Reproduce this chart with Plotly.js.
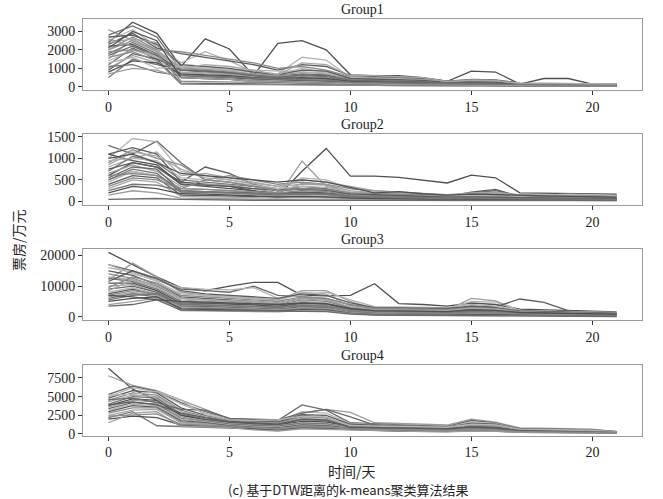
<!DOCTYPE html>
<html>
<head>
<meta charset="utf-8">
<script src="https://cdn.plot.ly/plotly-3.0.1.min.js"></script>
<style>
  body { margin: 0; background: #fff; }
  #plot { width: 663px; height: 499px; }
</style>
</head>
<body>
<div id="plot"></div>
<script>
// 天数 0..21
const days = [0,1,2,3,4,5,6,7,8,9,10,11,12,13,14,15,16,17,18,19,20,21];

const groupNames = ['Group1', 'Group2', 'Group3', 'Group4'];

// 各组票房曲线（万元）
const group1 = [
  [2400,3500,2900,1100,2600,2050,600,2350,2500,2000,650,600,600,500,300,850,800,150,450,450,150,150],
  [3100,2500,2000,1000,900,800,500,400,350,300,250,200,180,150,120,100,90,80,70,60,60,50],
  [2800,3300,2700,900,800,700,600,500,450,400,300,250,230,200,150,120,100,90,80,70,60,60],
  [2500,3100,2200,1300,1900,1400,800,700,1600,1450,500,450,400,350,250,350,300,120,100,100,90,80],
  [2300,2900,2100,1800,1600,1400,1200,900,1200,1100,600,550,500,450,300,400,380,200,180,170,160,150],
  [2000,2700,2000,1900,1700,1500,1300,1000,1100,900,550,500,480,400,300,350,330,180,170,160,150,140],
  [1500,2600,1900,800,700,650,500,450,400,350,300,280,250,200,150,150,120,100,90,80,70,60],
  [1800,2400,1800,700,600,550,450,400,380,350,250,230,200,180,140,130,110,90,80,70,60,50],
  [2200,2300,1700,600,550,500,400,380,350,300,200,180,170,150,120,110,100,80,70,60,50,50],
  [2600,2200,1600,500,450,400,350,300,280,250,180,160,150,130,100,90,80,70,60,50,40,40],
  [1200,2100,1500,1000,900,800,700,600,700,650,400,380,350,300,200,250,230,120,110,100,90,80],
  [1400,2000,1600,1100,1000,900,800,700,1000,800,450,420,400,350,250,300,280,150,130,120,110,100],
  [900,1800,1500,200,180,160,140,120,110,100,90,80,70,60,50,50,40,40,30,30,30,30],
  [1600,1900,1400,150,130,120,110,100,90,80,70,60,60,50,40,40,40,30,30,30,20,20],
  [1000,1700,1300,800,750,700,600,500,550,500,350,330,300,250,180,200,180,100,90,80,70,70],
  [500,1500,1200,900,850,750,650,550,600,550,380,350,320,280,200,220,200,110,100,90,80,80],
  [800,1400,1300,700,650,600,500,450,500,450,300,280,250,220,160,180,160,90,80,70,70,60],
  [2000,2500,1900,1000,950,850,700,600,800,700,420,400,380,320,220,260,240,130,120,110,100,90],
  [1700,2200,1700,900,850,750,600,500,650,600,350,320,300,260,190,220,200,110,100,90,80,80],
  [1300,1600,1000,1100,1000,950,900,850,800,750,500,450,420,380,250,300,280,200,190,180,170,160],
  [2700,2800,2300,1200,1100,1000,800,650,900,850,450,430,400,350,240,270,250,140,130,120,110,100],
  [1900,2000,1800,300,280,260,240,220,200,180,150,140,130,120,100,90,80,70,60,60,50,50],
  [2400,2600,2400,1000,1200,1100,900,650,1300,1200,600,600,550,500,280,380,350,170,160,150,140,130],
  [1100,1200,800,600,550,500,450,400,380,350,250,230,210,190,150,140,130,100,90,90,80,80],
  [2100,3000,2500,500,450,400,300,250,220,200,150,130,120,100,80,80,70,60,50,50,40,40],
  [700,1000,900,500,450,400,300,250,230,200,150,140,120,100,80,80,70,60,50,50,40,40]
];

const group2 = [
  [600,900,800,450,400,350,250,120,700,1230,590,590,560,500,430,610,550,200,190,180,170,170],
  [500,700,600,300,280,250,200,100,940,350,200,150,130,110,100,130,120,80,80,70,70,60],
  [1300,1100,1400,900,500,450,350,250,300,280,150,130,120,100,90,200,250,100,120,130,140,150],
  [1000,1460,1380,700,600,500,400,300,550,500,300,250,220,180,150,180,170,130,120,110,100,100],
  [1100,1250,1100,450,800,650,400,250,350,300,200,180,160,140,120,220,280,120,130,140,150,150],
  [900,1200,1000,850,500,600,500,400,450,400,300,250,200,150,130,150,140,110,100,100,90,90],
  [800,1000,1150,600,650,550,450,350,400,380,250,200,180,150,120,170,160,100,100,90,80,80],
  [700,1050,900,500,450,400,350,300,300,280,200,180,150,130,110,130,120,90,90,80,80,70],
  [1100,950,850,400,350,300,250,200,220,200,150,130,120,100,90,100,100,70,70,60,60,60],
  [650,850,700,350,400,380,300,200,420,400,180,160,140,120,100,120,110,80,80,70,70,60],
  [550,800,750,250,230,220,200,180,200,180,130,120,110,100,80,90,80,60,60,50,50,50],
  [450,700,600,200,200,180,160,140,150,140,110,100,90,80,70,80,70,50,50,50,40,40],
  [400,600,550,150,140,130,120,100,110,100,90,80,70,60,50,60,50,40,40,40,30,30],
  [350,550,500,300,280,260,230,200,250,230,150,130,120,110,90,100,90,70,60,60,60,50],
  [300,500,450,120,110,100,90,80,90,80,60,60,50,50,40,40,40,30,30,30,30,30],
  [250,400,380,250,230,200,180,150,170,160,100,90,80,70,60,70,60,50,50,40,40,40],
  [200,350,300,180,170,150,130,110,120,110,80,70,60,50,40,50,40,30,30,30,20,20],
  [150,250,200,80,70,60,50,40,40,40,30,30,30,20,20,20,20,20,20,20,20,20],
  [50,60,70,50,40,40,30,30,30,30,30,30,30,30,30,30,30,30,30,30,30,30],
  [950,1000,950,550,500,450,380,300,350,330,220,200,180,150,130,150,140,120,150,170,160,140],
  [750,900,800,400,380,350,300,260,280,260,180,160,140,120,100,110,100,80,80,70,70,70],
  [600,650,600,300,500,450,350,250,300,280,200,180,170,160,150,180,200,160,150,140,120,110],
  [850,1150,1050,750,550,500,420,350,500,450,350,250,220,190,160,200,220,150,140,130,120,120],
  [500,750,650,220,210,200,190,170,180,170,120,110,100,90,80,90,80,60,60,60,50,50],
  [1000,1100,900,650,600,550,500,450,500,450,330,200,230,180,150,170,160,140,130,120,110,100]
];

const group3 = [
  [21000,17000,13000,9500,8500,10000,11200,11200,7000,6800,7000,10800,4300,4000,3500,4500,4000,2500,2200,2000,1800,1600],
  [12000,17500,13000,8000,7000,6500,6000,5500,8500,8500,5000,2500,2400,2300,2200,6000,5200,2000,1800,1600,1400,1200],
  [17000,15000,12000,9000,8500,8000,10000,7000,6500,6000,4000,2800,2700,2600,2500,3000,2800,1800,1600,1500,1300,1100],
  [16000,14500,11500,7500,7000,6500,6000,5000,8000,7500,3500,3000,2800,2700,2600,5000,4800,2000,1800,1600,1400,1200],
  [15000,13500,10500,6500,6000,5500,5000,4500,6000,5500,3000,2500,2300,2200,2100,3500,3200,5800,4700,2000,1500,1300],
  [14000,12500,10000,6000,5500,5000,4500,4000,5500,5000,2800,2200,2100,2000,1900,2500,2300,1500,1300,1200,1100,1000],
  [13000,12000,9500,5500,5000,4800,4300,3800,5000,4500,2500,2000,1900,1800,1700,2200,2000,1300,1200,1100,1000,900],
  [12500,11500,9000,5000,4500,4300,4000,3500,4500,4200,2300,1800,1700,1600,1500,2000,1800,1200,1100,1000,900,800],
  [11000,11000,8500,4500,4300,4100,3800,3300,4200,4000,2100,1600,1500,1400,1300,1800,1600,1100,1000,900,800,700],
  [10000,10500,8000,4200,4000,3800,3500,3000,4000,3800,2000,1500,1400,1300,1200,1600,1400,1000,900,800,700,600],
  [9000,10000,8000,4000,3800,3500,3200,2800,3800,3500,1800,1300,1200,1100,1000,1400,1200,900,800,700,600,500],
  [8000,9500,7500,3800,3500,3300,3000,2600,3500,3300,1600,1200,1100,1000,900,1200,1100,800,700,600,500,400],
  [7500,9000,7000,3500,3300,3000,2800,2500,3200,3000,1500,1100,1000,900,800,1100,1000,700,600,500,400,300],
  [7000,8500,7500,3300,3100,2900,2600,2300,3000,2800,1400,1000,900,800,700,1000,900,600,500,400,300,200],
  [6500,8000,7000,3000,2900,2700,2500,2200,2800,2600,1300,900,800,700,600,900,800,500,400,300,250,200],
  [6000,7500,6500,2800,2700,2500,2300,2000,2600,2400,1200,800,700,600,500,800,700,400,350,300,250,200],
  [5000,6000,6500,2500,2400,2200,2000,1800,2300,2200,1100,700,600,550,500,700,600,350,300,250,200,150],
  [4000,5000,6000,2000,1900,1800,1700,1600,2000,1900,1000,600,550,500,450,600,550,300,250,200,150,150],
  [3500,4000,5500,2200,2100,2000,1900,1700,1800,1700,900,550,500,450,400,500,450,250,200,200,150,100],
  [17000,14000,12000,9500,9000,8800,9500,6000,7000,8000,5500,3300,3200,3100,3000,4000,3500,2000,1800,1600,1500,1400],
  [11500,15000,12500,8500,7500,7000,6500,6000,7500,7000,4500,3000,2900,2800,2700,3500,3000,1900,1700,1500,1300,1200],
  [9500,13000,11000,7000,6500,6000,5500,5000,6500,6000,3800,2700,2600,2500,2400,3000,2700,1700,1500,1400,1200,1000],
  [8500,12000,10500,6000,5500,5300,5000,4500,6000,5500,3200,2300,2200,2100,2000,2800,2500,1500,1400,1300,1100,900],
  [5500,7000,7500,4000,3800,3600,3400,3200,3600,3400,2500,1900,1800,1700,1600,2000,1800,1300,1200,1100,1000,800],
  [7000,6500,5500,5000,4800,4500,4300,4000,4500,4300,2700,2000,1900,1800,1700,2300,2100,1400,1300,1200,1000,900]
];

const group4 = [
  [8800,6000,4500,2500,2000,1800,1700,1500,2500,2200,1000,900,850,800,700,1500,1300,500,450,400,350,300],
  [7800,6500,5800,4600,3300,2000,1800,1700,2800,3300,2900,1500,1400,1300,1200,2000,1600,800,700,700,650,300],
  [5300,6400,5700,4200,3000,2100,1900,1800,3900,3200,1500,1300,1200,1100,1000,1800,1500,700,650,600,550,300],
  [5000,6200,5600,4000,2800,2000,1800,1700,3000,2800,1400,1200,1100,1000,900,1600,1400,650,600,550,500,300],
  [4800,5800,5500,3500,2500,1900,1700,1600,2600,2500,1300,1100,1000,950,900,1400,1300,600,550,500,450,250],
  [4500,5500,5200,3200,2300,1800,1600,1500,2300,2200,1200,1000,950,900,850,1200,1100,550,500,450,400,250],
  [4300,5200,5000,3000,2200,1700,1500,1400,2100,2000,1100,950,900,850,800,1100,1000,500,450,400,350,250],
  [4000,5000,4800,2700,2000,1600,1400,1300,1900,1800,1000,900,850,800,750,1000,900,450,400,350,300,200],
  [3800,4700,4500,2500,1900,1500,1300,1200,1700,1600,950,850,800,750,700,900,850,400,350,300,300,200],
  [3600,4500,4300,2300,1800,1400,1200,1100,1500,1400,900,800,750,700,650,800,750,380,350,300,250,200],
  [3400,4200,4000,2100,1700,1300,1100,1000,1400,1300,850,750,700,650,600,750,700,350,300,280,250,200],
  [3200,4000,3800,2000,1600,1200,1000,900,1300,1200,800,700,650,600,550,700,650,330,300,270,250,200],
  [3000,3800,3600,1800,1500,1100,900,800,1200,1100,750,650,600,550,500,650,600,300,280,250,230,180],
  [2800,3500,3500,1600,1400,1000,800,700,1100,1000,700,600,550,500,450,600,550,280,260,240,220,180],
  [2500,3200,3300,1500,1300,950,750,600,1000,900,650,550,500,450,400,550,500,260,240,220,200,160],
  [2200,3000,1100,1000,1000,900,700,500,900,800,600,500,450,400,350,500,450,240,220,200,180,150],
  [2000,2400,2200,1200,1100,900,600,450,800,700,550,450,400,350,300,450,400,220,200,180,160,150],
  [1500,2800,3000,1000,950,850,550,400,700,600,500,400,350,300,280,400,350,200,180,160,150,140],
  [4600,4800,4200,3300,3200,2100,2000,1900,2800,3300,2300,1200,1100,1000,950,1300,1200,700,650,600,550,300],
  [5200,5300,5700,4500,2600,1900,1800,1900,2400,2300,1100,1050,1000,950,900,1300,1200,650,600,550,500,280],
  [3900,4300,3900,2800,2200,1700,1500,1300,2000,1900,900,850,800,750,700,900,800,450,400,350,300,220],
  [2400,2500,2700,1300,1200,1000,850,750,1000,950,650,600,550,500,450,550,500,300,270,250,230,180]
];

const yTicks = [
  [0, 1000, 2000, 3000],
  [0, 500, 1000, 1500],
  [0, 10000, 20000],
  [0, 2500, 5000, 7500]
];

const groups = [group1, group2, group3, group4];
const yRanges = [[-175, 3675], [-80, 1565], [-1050, 22100], [-230, 9280]];
const domains = [[0.8196, 0.9619], [0.5892, 0.7315], [0.3587, 0.5010], [0.1269, 0.2691]];
const grays = ['#505050', '#9c9c9c', '#6a6a6a', '#b4b4b4', '#5c5c5c', '#8a8a8a', '#a6a6a6', '#777777'];

const serif = 'Liberation Serif';
const cjk = 'Noto Sans CJK SC';

const traces = [];
groups.forEach((g, gi) => {
  g.forEach((vals, si) => {
    traces.push({
      x: days,
      y: vals,
      type: 'scatter',
      mode: 'lines',
      xaxis: gi === 0 ? 'x' : 'x' + (gi + 1),
      yaxis: gi === 0 ? 'y' : 'y' + (gi + 1),
      line: { color: grays[si % grays.length], width: 1.3 },
      showlegend: false,
      hoverinfo: 'skip'
    });
  });
});

const layout = {
  width: 663,
  height: 499,
  margin: { l: 0, r: 0, t: 0, b: 0 },
  paper_bgcolor: '#fff',
  plot_bgcolor: '#fff',
  font: { family: serif, size: 14, color: '#222' },
  annotations: [],
  showlegend: false
};

groups.forEach((g, gi) => {
  const sfx = gi === 0 ? '' : String(gi + 1);
  layout['xaxis' + sfx] = {
    domain: [0.1252, 0.9683],
    range: [-1.05, 22.05],
    anchor: 'y' + sfx,
    tickvals: [0, 5, 10, 15, 20],
    ticks: 'outside', ticklen: 4, tickcolor: '#333',
    showline: true, mirror: true, linecolor: '#9a9a9a', linewidth: 1,
    showgrid: false, zeroline: false,
    tickfont: { family: serif, size: 14, color: '#222' }
  };
  layout['yaxis' + sfx] = {
    domain: domains[gi],
    range: yRanges[gi],
    anchor: 'x' + sfx,
    tickvals: yTicks[gi],
    ticktext: yTicks[gi].map(String),
    ticks: 'outside', ticklen: 4, tickcolor: '#333',
    showline: true, mirror: true, linecolor: '#9a9a9a', linewidth: 1,
    showgrid: false, zeroline: false,
    tickfont: { family: serif, size: 14, color: '#222' }
  };
  layout.annotations.push({
    text: groupNames[gi],
    xref: 'paper', yref: 'paper',
    x: 0.5467, y: domains[gi][1],
    xanchor: 'center', yanchor: 'bottom', yshift: 0,
    showarrow: false,
    font: { family: serif, size: 14, color: '#222' }
  });
});

layout.annotations.push({
  text: '票房/万元',
  xref: 'paper', yref: 'paper',
  x: 18 / 663, y: 1 - 240 / 499,
  xanchor: 'center', yanchor: 'middle',
  textangle: -90, showarrow: false,
  font: { family: cjk, size: 14, color: '#222' }
});
layout.annotations.push({
  text: '时间/天',
  xref: 'paper', yref: 'paper',
  x: 352 / 663, y: 1 - 471 / 499,
  xanchor: 'center', yanchor: 'middle',
  showarrow: false,
  font: { family: cjk, size: 14, color: '#222' }
});
layout.annotations.push({
  text: '(c) 基于DTW距离的k-means聚类算法结果',
  xref: 'paper', yref: 'paper',
  x: 348 / 663, y: 1 - 489 / 499,
  xanchor: 'center', yanchor: 'middle',
  showarrow: false,
  font: { family: cjk, size: 13, color: '#222' }
});

Plotly.newPlot('plot', traces, layout, { staticPlot: true, displayModeBar: false });
</script>
</body>
</html>
